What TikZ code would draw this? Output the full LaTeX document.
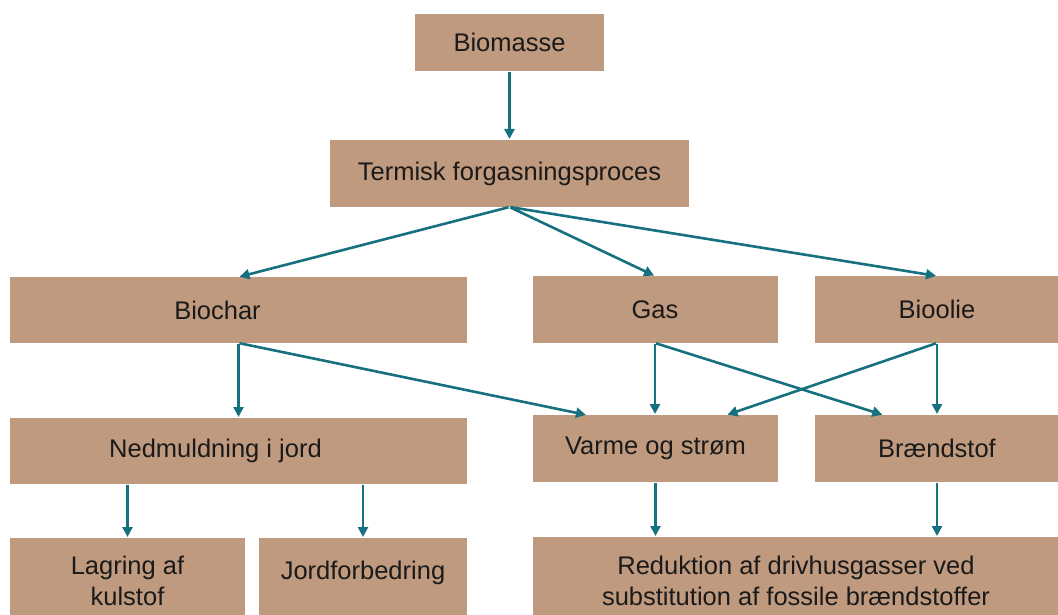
\documentclass[tikz,border=0pt]{standalone}
\usepackage{fontspec}
\setmainfont{Liberation Sans}
\usetikzlibrary{arrows.meta,calc}
\definecolor{boxfill}{HTML}{BF9A7E}
\definecolor{arrowc}{HTML}{17707F}
\definecolor{txt}{HTML}{1A1A1A}
\begin{document}
\begin{tikzpicture}[x=1pt,y=-1pt,
  box/.style={fill=boxfill, inner sep=0pt, outer sep=0pt, align=center,
    font=\fontsize{25.5}{31}\selectfont, text=txt},
  lbl/.style={font=\fontsize{25.5}{31}\selectfont, text=txt, inner sep=0pt},
  arr/.style={draw=arrowc, line width=2.6pt, -{Triangle[length=10pt,width=10pt]}, shorten >=1pt, shorten <=1pt}]
\useasboundingbox (0,0) rectangle (1058,615);
\clip (0,0) rectangle (1058,615);
% boxes
\node[box, minimum width=189pt, minimum height=57pt] (biomasse) at (509.5,42.5) {Biomasse};
\node[box, minimum width=359pt, minimum height=67pt] (termisk) at (509.5,173.5) {Termisk forgasningsproces};
\node[box, minimum width=457pt, minimum height=66pt,
      label={[lbl, xshift=-21pt]center:Biochar}] (biochar) at (238.5,310) {};
\node[box, minimum width=245pt, minimum height=67pt] (gas) at (655,309.5) {Gas};
\node[box, minimum width=244pt, minimum height=67pt] (bioolie) at (937,309.5) {Bioolie};
\node[box, minimum width=457pt, minimum height=66pt,
      label={[lbl, xshift=-23pt]center:Nedmuldning i jord}] (nedm) at (238.5,451) {};
\node[box, minimum width=245pt, minimum height=67pt] (varme) at (655.5,448.5) {Varme og strøm};
\node[box, minimum width=244pt, minimum height=67pt] (braend) at (937,448.5) {Brændstof};
\node[box, minimum width=235pt, minimum height=86pt] (lagring) at (127.5,581) {Lagring af\\kulstof};
\node[box, minimum width=208pt, minimum height=86pt,
      label={[lbl, yshift=8pt]center:Jordforbedring}] (jord) at (363,581) {};
\node[box, minimum width=526pt, minimum height=88pt] (reduk) at (796,581) {Reduktion af drivhusgasser ved\\substitution af fossile brændstoffer};
% attachment points
\coordinate (vA) at ($(varme.north west)!0.22!(varme.north east)$);
\coordinate (vC) at ($(varme.north west)!0.79!(varme.north east)$);
\coordinate (bA) at ($(braend.north west)!0.28!(braend.north east)$);
% connectors
\draw[arr] (biomasse.south) -- (biomasse.south |- termisk.north);
\draw[arr] (termisk.south) -- (biochar.north);
\draw[arr] (termisk.south) -- (gas.north);
\draw[arr] (termisk.south) -- (bioolie.north);
\draw[arr] (biochar.south) -- (biochar.south |- nedm.north);
\draw[arr] (biochar.south) -- (vA);
\draw[arr] (gas.south) -- (gas.south |- varme.north);
\draw[arr] (gas.south) -- (bA);
\draw[arr] (bioolie.south) -- (vC);
\draw[arr] (bioolie.south) -- (bioolie.south |- braend.north);
\draw[arr] (lagring.north |- nedm.south) -- (lagring.north);
\draw[arr] (jord.north |- nedm.south) -- (jord.north);
\draw[arr] (varme.south) -- (varme.south |- reduk.north);
\draw[arr] (braend.south) -- (braend.south |- reduk.north);
\end{tikzpicture}
\end{document}
